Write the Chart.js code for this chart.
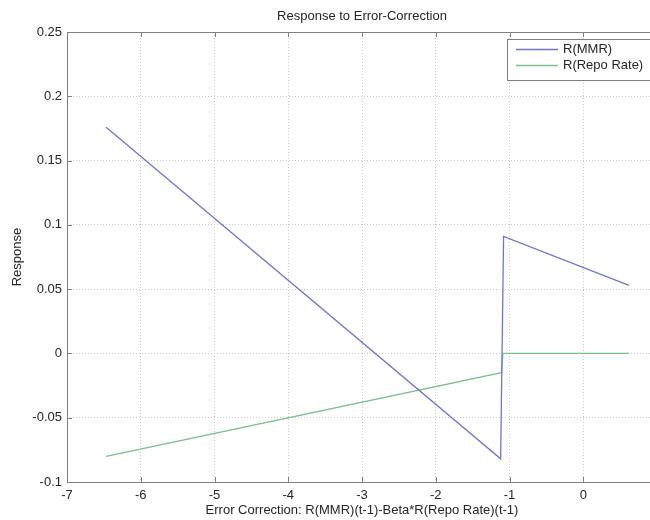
<!DOCTYPE html>
<html>
<head>
<meta charset="utf-8">
<script src="https://cdn.jsdelivr.net/npm/chart.js@4/dist/chart.umd.min.js"></script>
<style>
  html, body { margin: 0; padding: 0; background: #fff; overflow: hidden; }
  #wrap { width: 670px; height: 520px; }
</style>
</head>
<body>
<div id="wrap"><canvas id="chart" width="670" height="520"></canvas></div>
<script>
// values
const mmrX = [-6.47, -1.12, -1.08, 0.62];
const mmrY = [0.176, -0.082, 0.091, 0.053];
const repoX = [-6.47, -1.11, -1.09, 0.62];
const repoY = [-0.080, -0.015, 0, 0];
const xTicks = [-7, -6, -5, -4, -3, -2, -1, 0, 1];
const yTicks = [-0.1, -0.05, 0, 0.05, 0.1, 0.15, 0.2, 0.25];
const seriesNames = ["R(MMR)", "R(Repo Rate)"];
const seriesColors = ["#7474c6", "#7dbd8e"];

const FONT = "Liberation Sans, Arial, Helvetica, sans-serif";
const toPoints = (xs, ys) => xs.map((x, i) => ({ x: x, y: ys[i] }));

// MATLAB style frame, inward ticks, title and legend box
const matlabLook = {
  id: "matlabLook",
  afterDatasetsDraw(chart) {
    const { ctx, chartArea: a, scales } = chart;
    ctx.save();
    ctx.strokeStyle = "#7f7f7f";
    ctx.lineWidth = 1;
    ctx.strokeRect(a.left + 0.5, a.top + 0.5, a.right - a.left, a.bottom - a.top);

    ctx.beginPath();
    xTicks.forEach((v) => {
      const px = Math.round(scales.x.getPixelForValue(v)) + 0.5;
      ctx.moveTo(px, a.bottom); ctx.lineTo(px, a.bottom - 5);
      ctx.moveTo(px, a.top); ctx.lineTo(px, a.top + 5);
    });
    yTicks.forEach((v) => {
      const py = Math.round(scales.y.getPixelForValue(v)) + 0.5;
      ctx.moveTo(a.left, py); ctx.lineTo(a.left + 5, py);
      ctx.moveTo(a.right, py); ctx.lineTo(a.right - 5, py);
    });
    ctx.stroke();

    // title
    ctx.fillStyle = "#262626";
    ctx.font = "13px " + FONT;
    ctx.textAlign = "center";
    ctx.textBaseline = "middle";
    ctx.fillText("Response to Error-Correction", (a.left + a.right) / 2, 16.5);

    // legend
    const bx = 507, by = 39, bw = a.right - 3 - bx, bh = 41;
    ctx.fillStyle = "#fff";
    ctx.fillRect(bx, by, bw, bh);
    ctx.strokeStyle = "#7f7f7f";
    ctx.strokeRect(bx + 0.5, by + 0.5, bw, bh);
    const rows = [49.5, 65.5];
    ctx.textAlign = "left";
    seriesNames.forEach((name, i) => {
      ctx.strokeStyle = seriesColors[i];
      ctx.lineWidth = 1.3;
      ctx.beginPath();
      ctx.moveTo(516, rows[i]); ctx.lineTo(558, rows[i]);
      ctx.stroke();
      ctx.fillStyle = "#262626";
      ctx.fillText(name, 563, rows[i]);
    });
    ctx.restore();
  },
};

new Chart(document.getElementById("chart"), {
  type: "line",
  data: {
    datasets: [
      {
        label: seriesNames[0],
        data: toPoints(mmrX, mmrY),
        borderColor: seriesColors[0],
        borderWidth: 1.3,
        pointRadius: 0,
        tension: 0,
      },
      {
        label: seriesNames[1],
        data: toPoints(repoX, repoY),
        borderColor: seriesColors[1],
        borderWidth: 1.3,
        pointRadius: 0,
        tension: 0,
      },
    ],
  },
  options: {
    responsive: false,
    animation: false,
    devicePixelRatio: 1,
    layout: { padding: { top: 32, right: 13, left: 0, bottom: 0 } },
    plugins: {
      legend: { display: false },
      tooltip: { enabled: false },
    },
    scales: {
      x: {
        type: "linear",
        min: -7,
        max: 1,
        afterFit: (s) => { s.height = 38; },
        afterBuildTicks: (s) => { s.ticks = xTicks.map((v) => ({ value: v })); },
        ticks: {
          padding: 6,
          color: "#262626",
          font: { family: FONT, size: 13 },
          maxRotation: 0,
          callback: (v) => String(v),
        },
        grid: { color: "#c8c8c8", drawTicks: false },
        border: { display: false, dash: [1, 2] },
        title: {
          display: true,
          text: "Error Correction: R(MMR)(t-1)-Beta*R(Repo Rate)(t-1)",
          color: "#262626",
          font: { family: FONT, size: 13 },
          padding: { top: 0, bottom: 2 },
        },
      },
      y: {
        type: "linear",
        min: -0.1,
        max: 0.25,
        afterFit: (s) => { s.width = 67; },
        afterBuildTicks: (s) => { s.ticks = yTicks.map((v) => ({ value: v })); },
        ticks: {
          padding: 5,
          color: "#262626",
          font: { family: FONT, size: 13 },
          callback: (v) => String(Number(v.toFixed(2))),
        },
        grid: { color: "#c8c8c8", drawTicks: false },
        border: { display: false, dash: [1, 2] },
        title: {
          display: true,
          text: "Response",
          color: "#262626",
          font: { family: FONT, size: 13 },
          padding: { top: 10, bottom: 0 },
        },
      },
    },
  },
  plugins: [matlabLook],
});
</script>
</body>
</html>
